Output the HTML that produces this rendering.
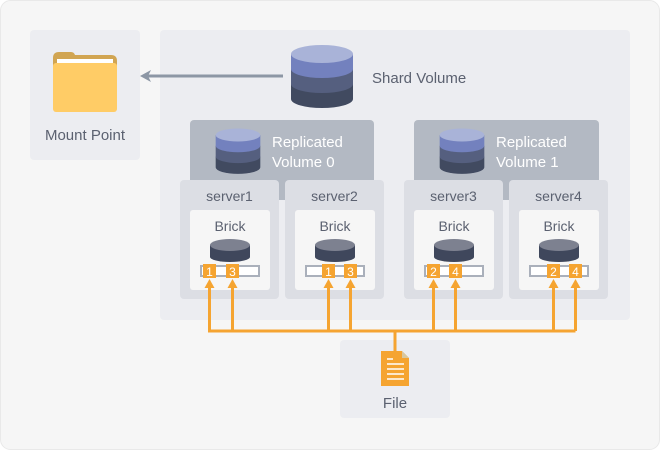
<!DOCTYPE html>
<html><head><meta charset="utf-8"><style>
html,body{margin:0;padding:0;background:#fff;}
svg{display:block;font-family:"Liberation Sans",sans-serif;}
</style></head><body>
<svg width="660" height="450" viewBox="0 0 660 450" xmlns="http://www.w3.org/2000/svg">
<defs>
<g id="cyl">
 <path d="M-31 30 L-31 45 A31 9 0 0 0 31 45 L31 30 Z" fill="#414a60"/>
 <path d="M-31 15 L-31 30 A31 9 0 0 0 31 30 L31 15 Z" fill="#555f7f"/>
 <path d="M-31 0 L-31 15 A31 9 0 0 0 31 15 L31 0 Z" fill="#7381be"/>
 <ellipse cx="0" cy="0" rx="31" ry="9" fill="#a9b3d8"/>
</g>
<g id="disk">
 <path d="M-20 0 L-20 12 A20 5 0 0 0 20 12 L20 0 Z" fill="#3f475c"/>
 <ellipse cx="0" cy="0" rx="20" ry="6" fill="#7d8190"/>
</g>
<g id="ah"><path d="M-5 0 L0 -9 L5 0 Z" fill="#f5a431"/></g>
</defs>
<rect x="0.5" y="0.5" width="659" height="449" rx="10" fill="#f6f6f6" stroke="#e9e9e9"/>
<!-- Mount point -->
<rect x="30" y="30" width="110" height="130" rx="4" fill="#ecedf1"/>
<path d="M53 58 Q53 52 59 52 L71 52 Q74 52 75 55 L111 55 Q117 55 117 61 L117 70 L53 70 Z" fill="#d1a552"/>
<rect x="57" y="59" width="56" height="10" fill="#fff"/>
<rect x="53" y="63" width="64" height="49" rx="3" fill="#ffcc66"/>
<text x="85" y="140" text-anchor="middle" font-size="15" fill="#5b6170">Mount Point</text>
<!-- main -->
<rect x="160" y="30" width="470" height="290" rx="4" fill="#ecedf1"/>
<line x1="283" y1="76" x2="148" y2="76" stroke="#8d97a5" stroke-width="3"/>
<path d="M140 76 L151 70 L148 76 L151 82 Z" fill="#8d97a5"/>
<use href="#cyl" x="322" y="54"/>
<text x="372" y="83" font-size="15" fill="#5b6170">Shard Volume</text>
<!-- replicated -->
<rect x="190" y="120" width="184" height="80" rx="4" fill="#b3b9c3"/>
<g transform="translate(238,135) scale(0.72)"><use href="#cyl"/></g>
<text x="272" y="147" font-size="15" fill="#fff">Replicated</text>
<text x="272" y="167" font-size="15" fill="#fff">Volume 0</text>
<rect x="414" y="120" width="185" height="80" rx="4" fill="#b3b9c3"/>
<g transform="translate(462,135) scale(0.72)"><use href="#cyl"/></g>
<text x="496" y="147" font-size="15" fill="#fff">Replicated</text>
<text x="496" y="167" font-size="15" fill="#fff">Volume 1</text>
<!-- servers -->
<g font-size="14" fill="#5b6170" text-anchor="middle">
<rect x="180" y="180" width="99" height="119" rx="4" fill="#dcdee4"/>
<rect x="285" y="180" width="99" height="119" rx="4" fill="#dcdee4"/>
<rect x="404" y="180" width="99" height="119" rx="4" fill="#dcdee4"/>
<rect x="509" y="180" width="99" height="119" rx="4" fill="#dcdee4"/>
<text x="229.5" y="201">server1</text><text x="334.5" y="201">server2</text>
<text x="453.5" y="201">server3</text><text x="558.5" y="201">server4</text>
<rect x="190" y="210" width="80" height="80" rx="3" fill="#f6f6f6"/>
<rect x="295" y="210" width="80" height="80" rx="3" fill="#f6f6f6"/>
<rect x="414" y="210" width="80" height="80" rx="3" fill="#f6f6f6"/>
<rect x="519" y="210" width="80" height="80" rx="3" fill="#f6f6f6"/>
<text x="230" y="231" font-size="14">Brick</text><text x="335" y="231" font-size="14">Brick</text>
<text x="454" y="231" font-size="14">Brick</text><text x="559" y="231" font-size="14">Brick</text>
</g>
<use href="#disk" x="230" y="245"/><use href="#disk" x="335" y="245"/>
<use href="#disk" x="454" y="245"/><use href="#disk" x="559" y="245"/>
<g fill="#fff" stroke="#aab0bb" stroke-width="2">
<rect x="201" y="266" width="58" height="10"/><rect x="306" y="266" width="58" height="10"/>
<rect x="425" y="266" width="58" height="10"/><rect x="530" y="266" width="58" height="10"/>
</g>
<g fill="#f5a431">
<rect x="203" y="264" width="13" height="14"/><rect x="226" y="264" width="13" height="14"/>
<rect x="322" y="264" width="13" height="14"/><rect x="344" y="264" width="13" height="14"/>
<rect x="427" y="264" width="13" height="14"/><rect x="449" y="264" width="13" height="14"/>
<rect x="547" y="264" width="13" height="14"/><rect x="569" y="264" width="13" height="14"/>
</g>
<g fill="#fff" font-size="12" text-anchor="middle">
<text x="209.5" y="276">1</text><text x="232.5" y="276">3</text>
<text x="328.5" y="276">1</text><text x="350.5" y="276">3</text>
<text x="433.5" y="276">2</text><text x="455.5" y="276">4</text>
<text x="553.5" y="276">2</text><text x="575.5" y="276">4</text>
</g>
<!-- file -->
<rect x="340" y="340" width="110" height="78" rx="4" fill="#ecedf1"/>
<g stroke="#f5a431" stroke-width="3" fill="none">
<path d="M209.5 286 V331 H575.5 M232.5 286 V331 M328.5 286 V331 M350.5 286 V331 M433.5 286 V331 M455.5 286 V331 M553.5 286 V331 M575.5 286 V331 M395 331 V352"/>
</g>
<use href="#ah" x="209.5" y="288"/><use href="#ah" x="232.5" y="288"/>
<use href="#ah" x="328.5" y="288"/><use href="#ah" x="350.5" y="288"/>
<use href="#ah" x="433.5" y="288"/><use href="#ah" x="455.5" y="288"/>
<use href="#ah" x="553.5" y="288"/><use href="#ah" x="575.5" y="288"/>
<path d="M381 351 L402 351 L409 358 L409 386 L381 386 Z" fill="#f5a431"/>
<path d="M402 351 L409 358 L402 358 Z" fill="#d8c79f"/>
<g stroke="#fff" stroke-width="1.5">
<line x1="387" y1="359" x2="393" y2="359"/><line x1="387" y1="364" x2="404" y2="364"/>
<line x1="387" y1="369" x2="404" y2="369"/><line x1="387" y1="374" x2="404" y2="374"/>
<line x1="387" y1="379" x2="404" y2="379"/>
</g>
<text x="395" y="408" text-anchor="middle" font-size="15" fill="#5b6170">File</text>
</svg>
</body></html>
